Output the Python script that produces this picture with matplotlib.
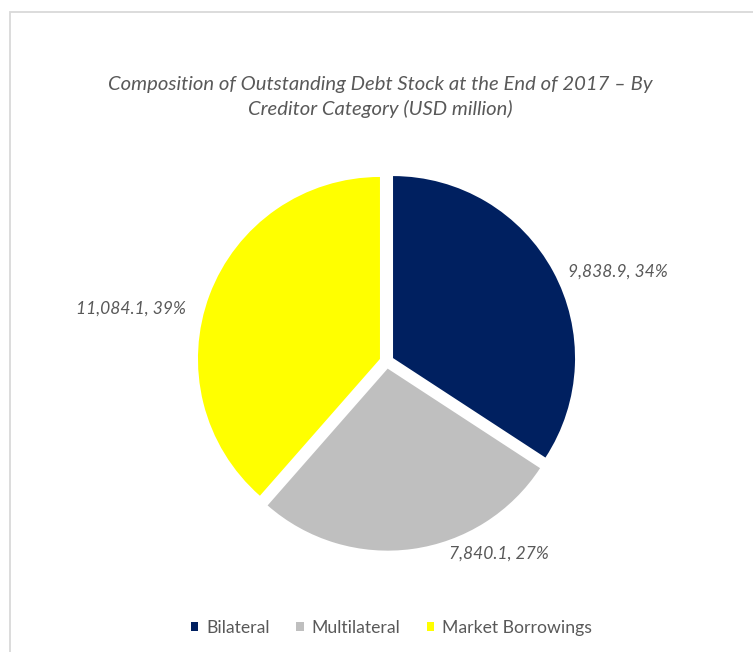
import matplotlib
matplotlib.use("Agg")
import matplotlib.pyplot as plt
import numpy as np
from matplotlib.patches import Rectangle

categories = ["Bilateral", "Multilateral", "Market Borrowings"]
values = [9838.9, 7840.1, 11084.1]
colors = ["#002060", "#BFBFBF", "#FFFF00"]
title = "Composition of Outstanding Debt Stock at the End of 2017 \u2013 By\nCreditor Category (USD million)"

W, H = 753, 652
fig = plt.figure(figsize=(W / 100, H / 100), dpi=100)
fig.patch.set_facecolor("white")
ax = fig.add_axes([0, 0, 1, 1])

FONT = ["Lato", "DejaVu Sans"]
TXT = "#595959"

cx, cy, R = 386.7, H - 361.5, 182
wedges, _ = ax.pie(values, colors=colors, startangle=90, counterclock=False,
                   explode=[7.2] * 3, radius=R, center=(cx, cy),
                   wedgeprops=dict(linewidth=0))
ax.set_xlim(0, W)
ax.set_ylim(0, H)
ax.set_aspect("equal")
ax.axis("off")

total = sum(values)
offsets = [(65, -0.5), (87, -5), (-79, -14)]
for w, v, off in zip(wedges, values, offsets):
    th = np.deg2rad((w.theta1 + w.theta2) / 2)
    px = w.center[0] + w.r * np.cos(th)
    py = w.center[1] + w.r * np.sin(th)
    ax.annotate(f"{v:,.1f}, {round(v / total * 100):d}%", (px, py),
                xytext=off, textcoords="offset pixels", ha="center", va="center",
                fontsize=12.5, style="italic", color=TXT, family=FONT)

fig.text(380 / W, 1 - 97 / H, title, ha="center", va="center", fontsize=14.6,
         style="italic", color=TXT, family=FONT, linespacing=1.4)

leg = fig.legend(wedges, categories, loc="center", ncol=3,
                 bbox_to_anchor=(391.5 / W, 1 - 628 / H), frameon=False,
                 prop=dict(family=FONT, size=12.7), labelcolor=TXT,
                 handlelength=0.42, handleheight=0.42, handletextpad=0.45,
                 columnspacing=1.5)

fig.add_artist(Rectangle((10 / W, -0.1), 1.2, 1 - 12 / H + 0.1, transform=fig.transFigure,
                         fill=False, edgecolor="#D9D9D9", linewidth=1.3))

fig.savefig("out.png", dpi=100, facecolor="white")
